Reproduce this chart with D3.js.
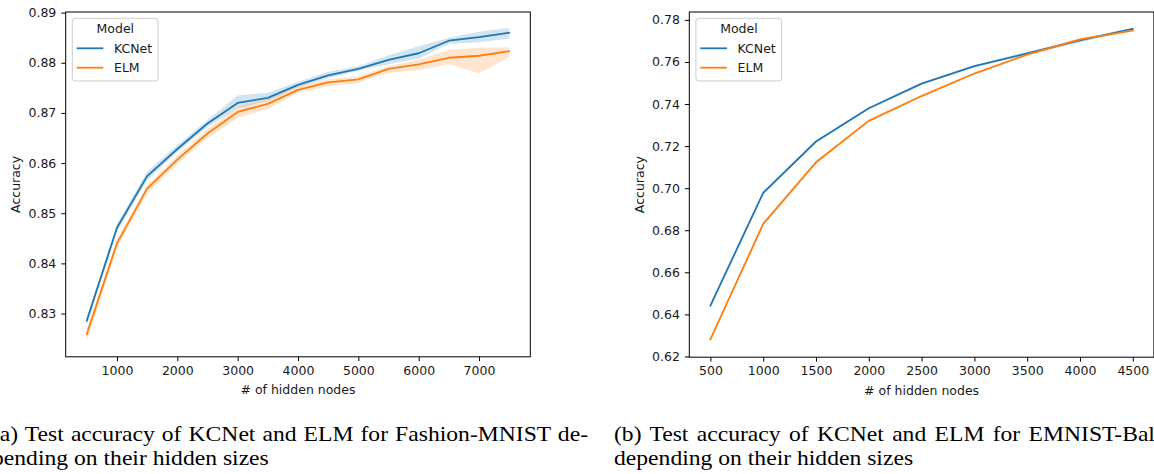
<!DOCTYPE html>
<html>
<head>
<meta charset="utf-8">
<script src="https://cdn.jsdelivr.net/npm/d3@7"></script>
<style>
  body { margin: 0; background: #fff; }
  svg { display: block; }
  .axis text, .lbl, .leg text { font-family: "DejaVu Sans", sans-serif; fill: #1a1a1a; }
  .cap { font-family: "Liberation Serif", "Times New Roman", serif; font-size: 21px; fill: #000; }
</style>
</head>
<body>
<svg id="chart" width="1154" height="474"></svg>
<script>
// ---- data -------------------------------------------------------------
const seriesNames = ["KCNet", "ELM"];
const seriesColors = ["#1f77b4", "#ff7f0e"];

// Fashion-MNIST
const fashionNodes = [500, 1000, 1500, 2000, 2500, 3000, 3500, 4000, 4500, 5000, 5500, 6000, 6500, 7000, 7500];
const fashionKCNet   = [0.8286, 0.8471, 0.8574, 0.8628, 0.8679, 0.8720, 0.8730, 0.8756, 0.8775, 0.8788, 0.8806, 0.8819, 0.8844, 0.8851, 0.8860];
const fashionKCNetLo = [0.8277, 0.8464, 0.8566, 0.8622, 0.8672, 0.8710, 0.8724, 0.8751, 0.8769, 0.8784, 0.8797, 0.8808, 0.8838, 0.8841, 0.8848];
const fashionKCNetHi = [0.8293, 0.8478, 0.8583, 0.8636, 0.8686, 0.8735, 0.8740, 0.8762, 0.8782, 0.8793, 0.8815, 0.8833, 0.8850, 0.8862, 0.8870];
const fashionELM     = [0.8259, 0.8440, 0.8549, 0.8607, 0.8659, 0.8702, 0.8718, 0.8746, 0.8761, 0.8767, 0.8788, 0.8797, 0.8810, 0.8814, 0.8823];
const fashionELMLo   = [0.8245, 0.8430, 0.8540, 0.8598, 0.8650, 0.8690, 0.8708, 0.8740, 0.8753, 0.8760, 0.8780, 0.8785, 0.8797, 0.8779, 0.8811];
const fashionELMHi   = [0.8268, 0.8448, 0.8556, 0.8615, 0.8668, 0.8712, 0.8727, 0.8753, 0.8767, 0.8773, 0.8793, 0.8806, 0.8826, 0.8830, 0.8831];
const fashionXTicks = [1000, 2000, 3000, 4000, 5000, 6000, 7000];
const fashionYTicks = [0.83, 0.84, 0.85, 0.86, 0.87, 0.88, 0.89];

// EMNIST-Balanced
const emnistNodes = [500, 1000, 1500, 2000, 2500, 3000, 3500, 4000, 4500];
const emnistKCNet   = [0.6442, 0.6978, 0.7222, 0.7380, 0.7497, 0.7580, 0.7641, 0.7703, 0.7758];
const emnistKCNetLo = [0.6432, 0.6970, 0.7216, 0.7375, 0.7492, 0.7575, 0.7633, 0.7693, 0.7752];
const emnistKCNetHi = [0.6452, 0.6986, 0.7228, 0.7385, 0.7502, 0.7585, 0.7649, 0.7711, 0.7763];
const emnistELM     = [0.6281, 0.6830, 0.7123, 0.7320, 0.7438, 0.7545, 0.7635, 0.7707, 0.7750];
const emnistELMLo   = [0.6271, 0.6822, 0.7114, 0.7314, 0.7433, 0.7540, 0.7630, 0.7702, 0.7745];
const emnistELMHi   = [0.6290, 0.6838, 0.7132, 0.7326, 0.7444, 0.7550, 0.7640, 0.7712, 0.7755];
const emnistXTicks = [500, 1000, 1500, 2000, 2500, 3000, 3500, 4000, 4500];
const emnistYTicks = [0.62, 0.64, 0.66, 0.68, 0.70, 0.72, 0.74, 0.76, 0.78];

const xLabel = "# of hidden nodes";
const yLabel = "Accuracy";
const legendTitle = "Model";
const captionA = ["(a) Test accuracy of KCNet and ELM for Fashion-MNIST de-", "pending on their hidden sizes"];
const captionB = ["(b) Test accuracy of KCNet and ELM for EMNIST-Balanced", "depending on their hidden sizes"];

// ---- drawing ----------------------------------------------------------
const svg = d3.select("#chart");
const FONT = 12.5, TICK = 4.4;

function padded(lo, hi) { const m = (hi - lo) * 0.05; return [lo - m, hi + m]; }

function panel(opt) {
  const { left, top, width, height, nodes, series, xTicks, yTicks, yFmt } = opt;
  const g = svg.append("g").attr("transform", `translate(${left},${top})`);

  const x = d3.scaleLinear().domain(padded(d3.min(nodes), d3.max(nodes))).range([0, width]);
  const allLo = d3.min(series, s => d3.min(s.lo)), allHi = d3.max(series, s => d3.max(s.hi));
  const y = d3.scaleLinear().domain(padded(allLo, allHi)).range([height, 0]);

  const clip = "clip" + Math.round(left);
  g.append("clipPath").attr("id", clip).append("rect").attr("width", width).attr("height", height);
  const plot = g.append("g").attr("clip-path", `url(#${clip})`);

  // confidence bands first, lines on top
  series.forEach((s, i) => {
    const area = d3.area().x((d, k) => x(nodes[k])).y0((d, k) => y(s.lo[k])).y1((d, k) => y(s.hi[k]));
    plot.append("path").attr("d", area(s.mean)).attr("fill", seriesColors[i]).attr("fill-opacity", 0.2);
  });
  series.forEach((s, i) => {
    const line = d3.line().x((d, k) => x(nodes[k])).y(d => y(d));
    plot.append("path").attr("d", line(s.mean)).attr("fill", "none")
      .attr("stroke", seriesColors[i]).attr("stroke-width", 1.8)
      .attr("stroke-linejoin", "round").attr("stroke-linecap", "square");
  });

  // axes
  const xa = g.append("g").attr("class", "axis").attr("transform", `translate(0,${height})`)
    .call(d3.axisBottom(x).tickValues(xTicks).tickFormat(d3.format("d")).tickSize(TICK).tickPadding(4.5));
  const ya = g.append("g").attr("class", "axis")
    .call(d3.axisLeft(y).tickValues(yTicks).tickFormat(d3.format(yFmt)).tickSize(TICK).tickPadding(5));
  [xa, ya].forEach(a => {
    a.select(".domain").remove();
    a.selectAll("line").attr("stroke", "#000").attr("stroke-width", 1);
    a.selectAll("text").attr("font-size", FONT);
  });

  // frame
  g.append("rect").attr("x", 0).attr("y", 0).attr("width", width).attr("height", height)
    .attr("fill", "none").attr("stroke", "#000").attr("stroke-width", 1);

  // axis titles
  g.append("text").attr("class", "lbl").attr("x", width / 2).attr("y", height + 37.5)
    .attr("text-anchor", "middle").attr("font-size", FONT).text(xLabel);
  g.append("text").attr("class", "lbl")
    .attr("transform", `translate(${opt.yLabelX},${height / 2}) rotate(-90)`)
    .attr("text-anchor", "middle").attr("font-size", FONT).text(yLabel);

  // legend
  const lg = g.append("g").attr("class", "leg").attr("transform", "translate(6.6,6.3)");
  lg.append("rect").attr("width", 85.7).attr("height", 62.7).attr("rx", 3)
    .attr("fill", "#fff").attr("fill-opacity", 0.8).attr("stroke", "#cccccc").attr("stroke-width", 1);
  lg.append("text").attr("x", 43).attr("y", 15.2).attr("text-anchor", "middle")
    .attr("font-size", FONT).text(legendTitle);
  seriesNames.forEach((n, i) => {
    const yy = 30 + i * 19.4;
    lg.append("line").attr("x1", 4.4).attr("x2", 31).attr("y1", yy).attr("y2", yy)
      .attr("stroke", seriesColors[i]).attr("stroke-width", 1.8);
    lg.append("text").attr("x", 41.7).attr("y", yy + 4.8).attr("font-size", FONT).text(n);
  });
}

panel({
  left: 65.7, top: 12, width: 464.6, height: 344.8, yLabelX: -45.5,
  nodes: fashionNodes, xTicks: fashionXTicks, yTicks: fashionYTicks, yFmt: ".2f",
  series: [
    { mean: fashionKCNet, lo: fashionKCNetLo, hi: fashionKCNetHi },
    { mean: fashionELM, lo: fashionELMLo, hi: fashionELMHi }
  ]
});

panel({
  left: 689.3, top: 12, width: 464.6, height: 345.2, yLabelX: -45.8,
  nodes: emnistNodes, xTicks: emnistXTicks, yTicks: emnistYTicks, yFmt: ".2f",
  series: [
    { mean: emnistKCNet, lo: emnistKCNetLo, hi: emnistKCNetHi },
    { mean: emnistELM, lo: emnistELMLo, hi: emnistELMHi }
  ]
});

// sub-figure captions: serif, slightly wide set, first lines justified to the column
const CAP_SX = 1.125, COL_W = 596;
function capLine(x, y, str, justify) {
  const t = svg.append("g").attr("transform", `translate(${x},${y}) scale(${CAP_SX},1)`)
    .append("text").attr("class", "cap").text(str);
  if (justify) {
    const w = t.node().getComputedTextLength() * CAP_SX;
    const gaps = str.split(" ").length - 1;
    t.attr("word-spacing", (COL_W - w) / gaps / CAP_SX);
  }
  return t;
}
const capAX = -8, capBX = 614;
capLine(capAX, 440.7, captionA[0], true);
capLine(capAX, 465, captionA[1], false);
capLine(capBX, 440.7, captionB[0], true);
capLine(capBX, 465, captionB[1], false);
</script>
</body>
</html>
